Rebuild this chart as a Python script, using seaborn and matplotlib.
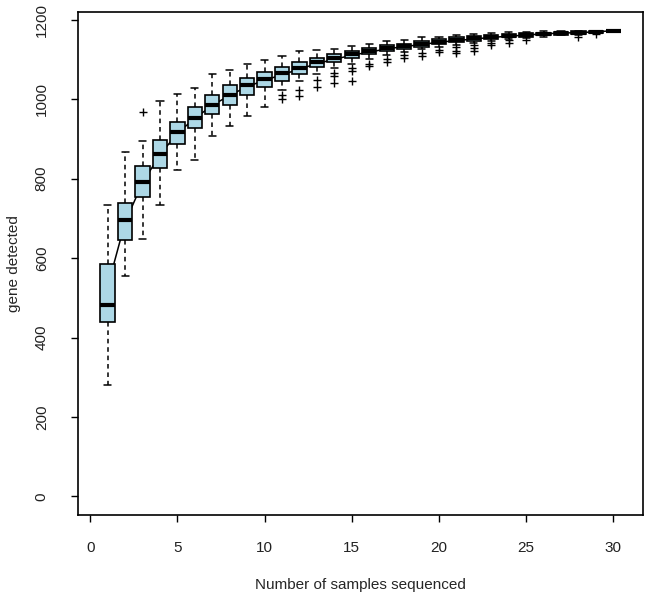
import numpy as np
import pandas as pd
import seaborn as sns
import matplotlib
matplotlib.use("Agg")
import matplotlib.pyplot as plt

# number of samples sequenced (one box per value)
n_samples = list(range(1, 31))

# box statistics
lo = [280, 555, 648, 733, 822, 847, 907, 933, 959, 981,
      1024, 1045, 1064, 1079, 1089, 1102, 1111, 1119, 1128, 1133,
      1138, 1142, 1148, 1152, 1155, 1158, 1161, 1163, 1166, 1173]
q1 = [438, 645, 755, 826, 888, 927, 962, 986, 1010, 1030,
      1047, 1064, 1081, 1094, 1104, 1114, 1121, 1127, 1133, 1139,
      1144, 1147, 1151, 1156, 1158, 1161, 1163, 1165, 1168, 1173]
med = [482, 697, 792, 863, 918, 954, 987, 1012, 1035, 1050,
       1066, 1079, 1094, 1105, 1115, 1122, 1129, 1135, 1140, 1145,
       1150, 1154, 1157, 1160, 1162, 1165, 1167, 1168, 1170, 1173]
q3 = [585, 740, 833, 898, 944, 981, 1012, 1035, 1055, 1069,
      1081, 1095, 1105, 1114, 1122, 1129, 1136, 1140, 1146, 1152,
      1156, 1159, 1162, 1164, 1166, 1168, 1170, 1171, 1172, 1173]
hi = [735, 868, 895, 995, 1014, 1028, 1065, 1075, 1089, 1100,
      1108, 1121, 1124, 1128, 1135, 1140, 1147, 1150, 1156, 1158,
      1163, 1165, 1166, 1169, 1170, 1171, 1172, 1173, 1173, 1173]
outliers = [[], [], [967], [], [], [], [], [], [], [],
            [1010, 1000], [1024, 1008], [1049, 1030], [1066, 1058, 1041],
            [1079, 1072, 1047], [1090, 1083], [1102, 1094], [1112, 1104],
            [1117, 1110], [1125, 1118], [1133, 1122, 1116], [1136, 1129, 1122],
            [1142, 1137], [1150, 1141], [1150], [], [], [1158], [1164], []]
# mean curve drawn behind the boxes
means = [528, 690, 790, 860, 915, 952, 985, 1010, 1032, 1048,
         1062, 1076, 1090, 1101, 1111, 1119, 1127, 1133, 1138, 1144,
         1148, 1152, 1156, 1159, 1162, 1165, 1167, 1168, 1170, 1173]

# five values per box -> quartiles land exactly on q1/med/q3
rows = []
for i, n in enumerate(n_samples):
    for v in (lo[i], q1[i], med[i], q3[i], hi[i]):
        rows.append((n, v))
box_df = pd.DataFrame(rows, columns=["n", "genes"])

out_df = pd.DataFrame([(n, v) for n, vals in zip(n_samples, outliers) for v in vals],
                      columns=["n", "genes"])

sns.set_style("white")
plt.rcParams["font.family"] = ["Liberation Sans", "DejaVu Sans"]

fig = plt.figure(figsize=(6.45, 5.98), dpi=100)
ax = fig.add_axes([78 / 645, 1 - 515 / 598, (643 - 78) / 645, (515 - 12) / 598])

sns.lineplot(x=n_samples, y=means, color="black", linewidth=1.1, ax=ax, zorder=0.5)

sns.boxplot(data=box_df, x="n", y="genes", native_scale=True, whis=(0, 100),
            width=0.82, color="#ADD8E6", saturation=1, linecolor="black",
            linewidth=1.2, showfliers=False, ax=ax,
            medianprops=dict(color="black", linewidth=3),
            whiskerprops=dict(color="black", linestyle=(0, (3, 2.5)), linewidth=1.1),
            capprops=dict(color="black", linewidth=1.1))

sns.scatterplot(data=out_df, x="n", y="genes", marker="+", s=30, color="black",
                linewidth=1.0, ax=ax, zorder=3)

ax.set_xlim(-0.7, 31.7)
ax.set_ylim(-47, 1220)
ax.set_xticks(range(0, 31, 5))
ax.set_yticks(range(0, 1201, 200))
ax.set_xlabel("Number of samples sequenced", fontsize=11, labelpad=16)
ax.set_ylabel("gene detected", fontsize=11, labelpad=10)

for s in ax.spines.values():
    s.set_visible(True)
    s.set_color("black")
    s.set_linewidth(1.2)

ax.tick_params(axis="both", direction="out", length=5, width=1, color="black",
               labelsize=11, labelcolor="#222222", bottom=True, left=True)
ax.tick_params(axis="x", pad=14)
ax.tick_params(axis="y", pad=16)
for lab in ax.get_yticklabels():
    lab.set_rotation(90)
    lab.set_va("center")

fig.savefig("out.png", dpi=100)
